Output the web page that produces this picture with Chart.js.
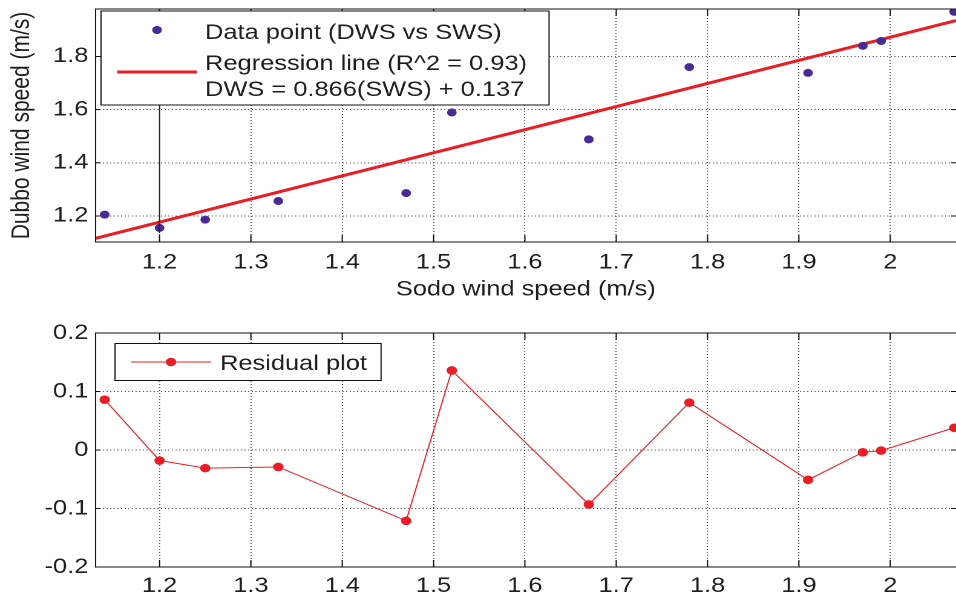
<!DOCTYPE html>
<html>
<head>
<meta charset="utf-8">
<script src="https://cdn.jsdelivr.net/npm/chart.js@4.4.1/dist/chart.umd.min.js"></script>
<style>
  html, body { margin: 0; padding: 0; background: #fff; overflow: hidden; }
  #wrap { position: relative; width: 956px; height: 597px; }
  canvas { position: absolute; left: 0; }
  #fit { top: 0; }
  #resid { top: 300px; }
</style>
</head>
<body>
<div id="wrap">
  <canvas id="fit" width="790" height="300"></canvas>
  <canvas id="resid" width="790" height="297"></canvas>
</div>
<script>
// values
var sodoSpeed  = [1.14, 1.20, 1.25, 1.33, 1.47, 1.52, 1.67, 1.78, 1.91, 1.97, 1.99, 2.07];
var dubboSpeed = [1.205, 1.155, 1.186, 1.256, 1.286, 1.589, 1.488, 1.760, 1.738, 1.840, 1.858, 1.968];
var residuals  = [0.086, -0.018, -0.031, -0.029, -0.121, 0.136, -0.093, 0.081, -0.051, -0.004, -0.001, 0.038];
// regression line end points (at the axis limits)
var regLineX = [1.13, 2.072];
var regLineY = [1.116, 1.935];

var xTicks = [1.2, 1.3, 1.4, 1.5, 1.6, 1.7, 1.8, 1.9, 2.0];
var yTicksFit = [1.2, 1.4, 1.6, 1.8];
var yTicksResid = [-0.2, -0.1, 0, 0.1, 0.2];

var fitLegendText = ['Data point (DWS vs SWS)', 'Regression line (R^2 = 0.93)', 'DWS = 0.866(SWS) + 0.137'];
var residLegendText = 'Residual plot';

// the original picture is stretched sideways, so the canvases are too
var SX = 1.21;
var FONT = "'Liberation Sans', Arial, Helvetica, sans-serif";
var INK = '#1e1e1e';
var PURPLE = '#482a96';
var RED = '#ec1c24';
var GRID = 'rgba(50,50,50,0.8)';

function px(x) { return x / SX; }

function pairs(xs, ys) {
    return xs.map(function (x, i) { return {x: x, y: ys[i]}; });
}

function fmt(v) { return String(Number(v.toFixed(2))); }

['fit', 'resid'].forEach(function (id) {
    var c = document.getElementById(id);
    c.style.width = '956px';
    c.style.height = c.height + 'px';
});

// box (right side is cut off in the original), inward tick marks like matlab
var framePlugin = {
    id: 'frame',
    afterDraw: function (chart) {
        var ctx = chart.ctx, a = chart.chartArea;
        var xs = chart.scales.x, ys = chart.scales.y;
        ctx.save();
        ctx.strokeStyle = '#111';
        ctx.lineWidth = 1;
        ctx.beginPath();
        ctx.moveTo(a.right + 2, a.top);
        ctx.lineTo(a.left, a.top);
        ctx.lineTo(a.left, a.bottom);
        ctx.lineTo(a.right + 2, a.bottom);
        xs.ticks.forEach(function (t) {
            var x = xs.getPixelForValue(t.value);
            ctx.moveTo(x, a.bottom); ctx.lineTo(x, a.bottom - 7);
            ctx.moveTo(x, a.top); ctx.lineTo(x, a.top + 7);
        });
        ys.ticks.forEach(function (t) {
            var y = ys.getPixelForValue(t.value);
            ctx.moveTo(a.left, y); ctx.lineTo(a.left + 4, y);
            ctx.moveTo(a.right, y); ctx.lineTo(a.right - 4, y);
        });
        ctx.stroke();
        ctx.restore();
    }
};

var fitLegend = {
    id: 'fitLegend',
    afterDraw: function (chart) {
        var ctx = chart.ctx, a = chart.chartArea;
        var x12 = chart.scales.x.getPixelForValue(1.2);
        ctx.save();
        // the solid line under the legend in the original
        ctx.strokeStyle = '#222';
        ctx.lineWidth = 1;
        ctx.beginPath();
        ctx.moveTo(x12, a.top);
        ctx.lineTo(x12, a.bottom - 9);
        ctx.stroke();

        ctx.fillStyle = '#fff';
        ctx.fillRect(px(101), 11, px(549) - px(101), 94);
        ctx.strokeStyle = '#111';
        ctx.strokeRect(px(101), 11, px(549) - px(101), 94);

        ctx.fillStyle = PURPLE;
        ctx.beginPath();
        ctx.arc(px(157), 30, 4, 0, Math.PI * 2);
        ctx.fill();

        ctx.strokeStyle = RED;
        ctx.lineWidth = 3;
        ctx.beginPath();
        ctx.moveTo(px(117), 72);
        ctx.lineTo(px(197), 72);
        ctx.stroke();

        ctx.fillStyle = INK;
        ctx.font = '21px ' + FONT;
        ctx.textBaseline = 'alphabetic';
        ctx.textAlign = 'left';
        ctx.fillText(fitLegendText[0], px(205), 39);
        ctx.fillText(fitLegendText[1], px(205), 70);
        ctx.fillText(fitLegendText[2], px(205), 96);
        ctx.restore();
    }
};

var residLegend = {
    id: 'residLegend',
    afterDraw: function (chart) {
        var ctx = chart.ctx;
        ctx.save();
        ctx.fillStyle = '#fff';
        ctx.fillRect(px(115), 43.5, px(381) - px(115), 37);
        ctx.strokeStyle = '#111';
        ctx.lineWidth = 1;
        ctx.strokeRect(px(115), 43.5, px(381) - px(115), 37);

        ctx.strokeStyle = RED;
        ctx.beginPath();
        ctx.moveTo(px(131), 62);
        ctx.lineTo(px(211), 62);
        ctx.stroke();
        ctx.fillStyle = RED;
        ctx.beginPath();
        ctx.arc(px(171), 62, 4.3, 0, Math.PI * 2);
        ctx.fill();

        ctx.fillStyle = INK;
        ctx.font = '21px ' + FONT;
        ctx.textBaseline = 'alphabetic';
        ctx.fillText(residLegendText, px(220), 70);
        ctx.restore();
    }
};

function xScale(labelPadding, title) {
    return {
        type: 'linear',
        position: 'bottom',
        min: 1.13,
        max: 2.072,
        afterBuildTicks: function (s) { s.ticks = xTicks.map(function (v) { return {value: v}; }); },
        afterFit: function (s) {
            s.height = title ? 58 : 30;
            s.paddingLeft = 0;
            s.paddingRight = 0;
        },
        grid: { color: GRID, lineWidth: 1, drawTicks: false },
        border: { display: false, dash: [1, 2] },
        ticks: {
            autoSkip: false, maxRotation: 0, padding: labelPadding,
            color: INK, font: { family: FONT, size: 21 },
            callback: fmt
        },
        title: {
            display: !!title, text: title, color: INK,
            font: { family: FONT, size: 21, lineHeight: 1 },
            padding: { top: 0, bottom: 0 }
        }
    };
}

function yScale(min, max, ticks, title) {
    return {
        type: 'linear',
        position: 'left',
        min: min,
        max: max,
        afterBuildTicks: function (s) { s.ticks = ticks.map(function (v) { return {value: v}; }); },
        afterFit: function (s) {
            s.width = 79;
            s.paddingTop = 0;
            s.paddingBottom = 0;
        },
        grid: { color: GRID, lineWidth: 1, drawTicks: false },
        border: { display: false, dash: [1, 2] },
        ticks: {
            padding: 6, color: INK, font: { family: FONT, size: 21 },
            callback: fmt
        },
        title: {
            display: !!title, text: title, color: INK,
            font: { family: FONT, size: 21, lineHeight: 1 },
            padding: { top: 7.5, bottom: 0 }
        }
    };
}

var common = {
    responsive: false,
    animation: false,
    devicePixelRatio: 2,
    plugins: { legend: { display: false }, tooltip: { enabled: false } }
};

new Chart(document.getElementById('fit'), {
    type: 'scatter',
    data: {
        datasets: [
            {
                label: fitLegendText[0],
                data: pairs(sodoSpeed, dubboSpeed),
                pointRadius: 4,
                pointBackgroundColor: PURPLE,
                pointBorderWidth: 0
            },
            {
                label: fitLegendText[1],
                data: pairs(regLineX, regLineY),
                showLine: true,
                borderColor: RED,
                borderWidth: 3,
                pointRadius: 0
            }
        ]
    },
    options: Object.assign({}, common, {
        layout: { autoPadding: false, padding: { top: 9, left: 0, right: 0, bottom: 0 } },
        scales: {
            x: xScale(8, 'Sodo wind speed (m/s)'),
            y: yScale(1.102, 1.9785, yTicksFit, 'Dubbo wind speed (m/s)')
        }
    }),
    plugins: [framePlugin, fitLegend]
});

new Chart(document.getElementById('resid'), {
    type: 'scatter',
    data: {
        datasets: [
            {
                label: residLegendText,
                data: pairs(sodoSpeed, residuals),
                showLine: true,
                borderColor: RED,
                borderWidth: 1,
                pointRadius: 4.3,
                pointBackgroundColor: RED,
                pointBorderWidth: 0
            }
        ]
    },
    options: Object.assign({}, common, {
        layout: { autoPadding: false, padding: { top: 33, left: 0, right: 0, bottom: 0 } },
        scales: {
            x: xScale(6.5, ''),
            y: yScale(-0.2, 0.2, yTicksResid, '')
        }
    }),
    plugins: [framePlugin, residLegend]
});
</script>
</body>
</html>
